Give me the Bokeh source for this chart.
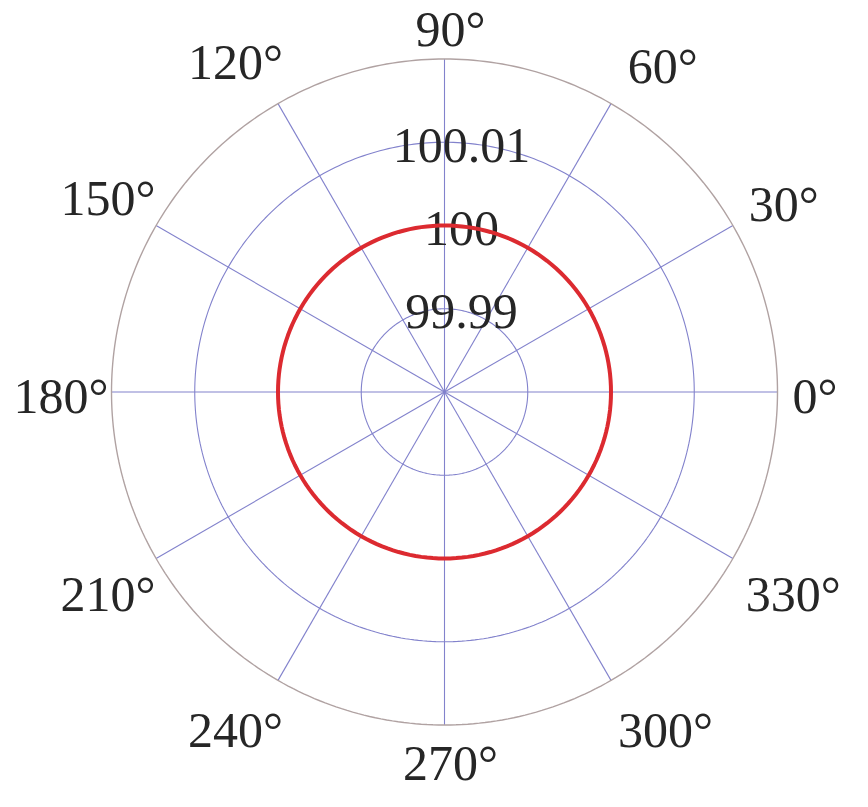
import math
from bokeh.plotting import figure
from bokeh.models import Range1d
from bokeh.core.properties import value
from bokeh.embed import file_html
from bokeh.resources import INLINE

# ---- data ----
angle_ticks = [0, 30, 60, 90, 120, 150, 180, 210, 240, 270, 300, 330]
angle_labels = [f"{a}°" for a in angle_ticks]
radial_ticks = [99.99, 100.0, 100.01]
radial_labels = ["99.99", "100", "100.01"]
r_min, r_max = 99.98, 100.02
curve_theta = list(range(0, 361, 2))
curve_r = [100.0] * len(curve_theta)

# ---- layout / style ----
W, H = 852, 791
CX, CY = 444, 391.5            # centre in figure pixels (from top-left)
R = 333.0                      # outer ring radius in px
FS = 50
FONT = "Liberation Serif"
TXT = "#262626"
GRID = "#8282cc"
RIM = "#b0a2a2"
RED = "#dc2a30"


def rpix(v):
    return (v - r_min) / (r_max - r_min) * R


def polar(rv, tdeg):
    t = math.radians(tdeg)
    rp = rpix(rv)
    return rp * math.cos(t), rp * math.sin(t)


p = figure(width=W, height=H, output_backend="svg", toolbar_location=None,
           x_range=Range1d(-CX, W - CX), y_range=Range1d(-(H - CY), CY),
           min_border=0, background_fill_color="white", border_fill_color="white")
p.axis.visible = False
p.grid.visible = False
p.outline_line_color = None

# spokes
for a in angle_ticks:
    x1, y1 = polar(r_max, a)
    p.line([0, x1], [0, y1], line_color=GRID, line_width=1.1)

# rings
for rv in radial_ticks + [r_max]:
    th = list(range(0, 361, 1))
    xs = [polar(rv, t)[0] for t in th]
    ys = [polar(rv, t)[1] for t in th]
    p.line(xs, ys, line_color=RIM if rv == r_max else GRID,
           line_width=1.4 if rv == r_max else 1.1)

# radial labels (digit centre just below ring top)
rx = [17.0] * len(radial_ticks)
ry = [rpix(v) - 3 for v in radial_ticks]
p.text(x=rx, y=ry, text=radial_labels, text_font=value(FONT),
       text_font_size=value(f"{FS}px"), text_color=TXT,
       text_align="center", text_baseline="middle")

# angular labels: box touching a circle of radius r0
r0, hh, sx, sy = 342.0, 25.0, 6.0, -4.0


def box_dist(cx, cy, hw, hh):
    dx = max(abs(cx) - hw, 0.0)
    dy = max(abs(cy) - hh, 0.0)
    return math.hypot(dx, dy)


ax, ay = [], []
for a, lab in zip(angle_ticks, angle_labels):
    nd = len(lab) - 1
    hw = FS * (0.5 * nd + 0.4) / 2
    c, s = math.cos(math.radians(a)), math.sin(math.radians(a))
    lo, hi = 0.0, 800.0
    for _ in range(60):
        mid = (lo + hi) / 2
        if box_dist(mid * c, mid * s, hw, hh) < r0:
            lo = mid
        else:
            hi = mid
    push = 0.0
    if abs(c) > 1e-9:
        push = math.copysign(60.0 * max(0.0, abs(s) - abs(c)), c)
    ax.append(lo * c + sx + push)
    ay.append(lo * s + sy)

p.text(x=ax, y=ay, text=angle_labels, text_font=value(FONT),
       text_font_size=value(f"{FS}px"), text_color=TXT,
       text_align="center", text_baseline="middle")

# data curve
cx_ = [polar(r, t)[0] for r, t in zip(curve_r, curve_theta)]
cy_ = [polar(r, t)[1] for r, t in zip(curve_r, curve_theta)]
p.line(cx_, cy_, line_color=RED, line_width=4)

open("out.html", "w").write(file_html(p, INLINE))
